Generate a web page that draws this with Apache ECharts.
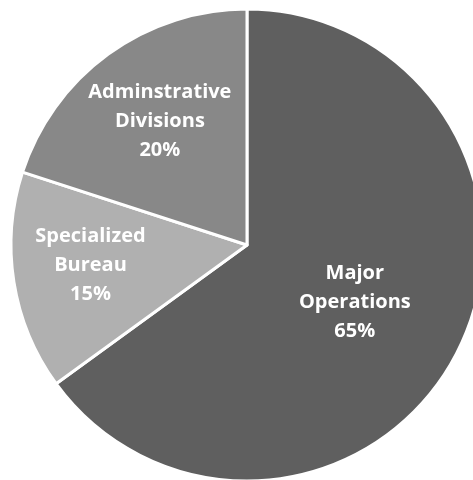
<!DOCTYPE html>
<html>
<head>
<meta charset="utf-8">
<script src="https://cdn.jsdelivr.net/npm/echarts@6/dist/echarts.min.js"></script>
<style>
html,body{margin:0;padding:0;background:#fff;}
#c{width:473px;height:480px;}
</style>
</head>
<body>
<div id="c"></div>
<script>
const categories = ['Major\nOperations', 'Specialized\nBureau', 'Adminstrative\nDivisions'];
const values = [65, 15, 20];
const percentLabels = ['65%', '15%', '20%'];

const sliceColors = ['#5f5f5f', '#b0b0b0', '#888888'];
const labelShift = [[0, 2], [-37, 1], [-16, -26]];

const chart = echarts.init(document.getElementById('c'), null, {renderer: 'canvas'});
chart.setOption({
  animation: false,
  backgroundColor: '#ffffff',
  series: [{
    type: 'pie',
    center: [247, 245],
    radius: [0, 236],
    startAngle: 90,
    clockwise: true,
    avoidLabelOverlap: false,
    data: categories.map((c, i) => ({
      name: c,
      value: values[i],
      itemStyle: {color: sliceColors[i]}
    })),
    itemStyle: {borderColor: '#ffffff', borderWidth: 3},
    label: {
      show: true,
      position: 'inside',
      formatter: (p) => p.name + '\n' + percentLabels[p.dataIndex],
      color: '#ffffff',
      fontFamily: 'Open Sans',
      fontWeight: 'bold',
      fontSize: 20,
      lineHeight: 29,
      align: 'center'
    },
    labelLine: {show: false},
    labelLayout: (p) => ({dx: labelShift[p.dataIndex][0], dy: labelShift[p.dataIndex][1]}),
    emphasis: {disabled: true}
  }]
});
</script>
</body>
</html>
